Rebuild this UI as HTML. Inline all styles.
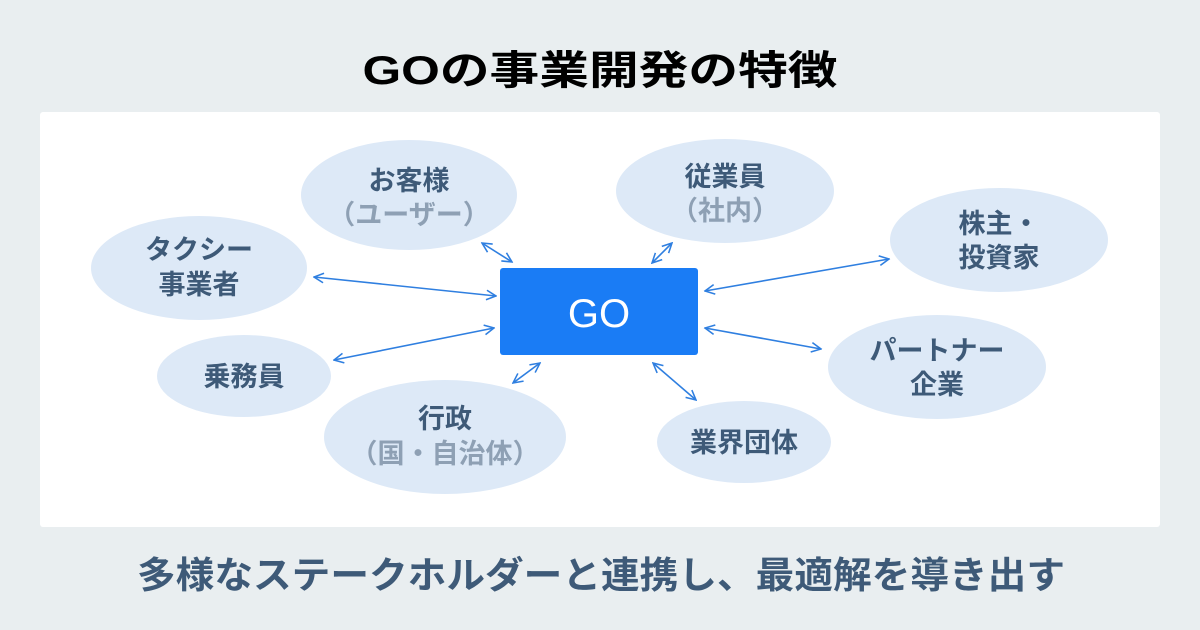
<!DOCTYPE html>
<html><head><meta charset="utf-8"><style>
html,body{margin:0;padding:0;background:#e9eef0;}
svg{display:block;}
text{font-family:"Liberation Sans","Noto Sans CJK JP",sans-serif;font-weight:bold;}
</style></head><body>
<svg width="1200" height="630" viewBox="0 0 1200 630" xmlns="http://www.w3.org/2000/svg">
<defs>
<marker id="a" viewBox="0 0 10 10" refX="9" refY="5" markerWidth="12" markerHeight="12" markerUnits="userSpaceOnUse" orient="auto-start-reverse">
<path d="M1,1 L9,5 L1,9" fill="none" stroke="#2f7fe0" stroke-width="1.3"/>
</marker>
</defs>
<rect width="1200" height="630" fill="#e9eef0"/>
<text x="600" y="84" font-size="40" text-anchor="middle" fill="#000" textLength="475" lengthAdjust="spacingAndGlyphs">GOの事業開発の特徴</text>
<rect x="40" y="112" width="1120" height="415" rx="3" fill="#fff"/>
<g fill="#dde9f7">
<ellipse cx="409" cy="195" rx="108" ry="55"/>
<ellipse cx="199" cy="268" rx="108" ry="52"/>
<ellipse cx="244" cy="376" rx="87" ry="41"/>
<ellipse cx="445" cy="437" rx="121" ry="57"/>
<ellipse cx="725" cy="191" rx="109" ry="52"/>
<ellipse cx="999" cy="240" rx="109" ry="52"/>
<ellipse cx="937" cy="367" rx="109" ry="52"/>
<ellipse cx="744" cy="442" rx="87" ry="41"/>
</g>
<g stroke="#2f7fe0" stroke-width="1.6" marker-start="url(#a)" marker-end="url(#a)">
<line x1="482" y1="243" x2="512" y2="262"/>
<line x1="314" y1="277" x2="496" y2="296"/>
<line x1="334" y1="360" x2="494" y2="328"/>
<line x1="513" y1="383" x2="540" y2="363"/>
<line x1="652" y1="263" x2="672" y2="243"/>
<line x1="705" y1="291" x2="889" y2="259"/>
<line x1="705" y1="328" x2="821" y2="349"/>
<line x1="653" y1="363" x2="696" y2="400"/>
</g>
<rect x="500" y="268" width="198" height="87" rx="3" fill="#1a7cf5"/>
<text x="599" y="327" font-size="40" text-anchor="middle" fill="#fff" style="font-weight:normal">GO</text>
<g font-size="27" text-anchor="middle" fill="#3e5a78">
<text x="409" y="190">お客様</text>
<text x="409" y="224" fill="#8ea0b4">（ユーザー）</text>
<text x="199" y="259">タクシー</text>
<text x="199" y="294">事業者</text>
<text x="244" y="386">乗務員</text>
<text x="445" y="428">行政</text>
<text x="445" y="463" fill="#8ea0b4">（国・自治体）</text>
<text x="725" y="186">従業員</text>
<text x="725" y="220" fill="#8ea0b4">（社内）</text>
<text x="999" y="233">株主・</text>
<text x="999" y="267">投資家</text>
<text x="937" y="360">パートナー</text>
<text x="937" y="394">企業</text>
<text x="744" y="452">業界団体</text>
</g>
<text x="601" y="588" font-size="37" text-anchor="middle" fill="#3e5a78" textLength="928" lengthAdjust="spacingAndGlyphs">多様なステークホルダーと連携し、最適解を導き出す</text>
</svg>
</body></html>
